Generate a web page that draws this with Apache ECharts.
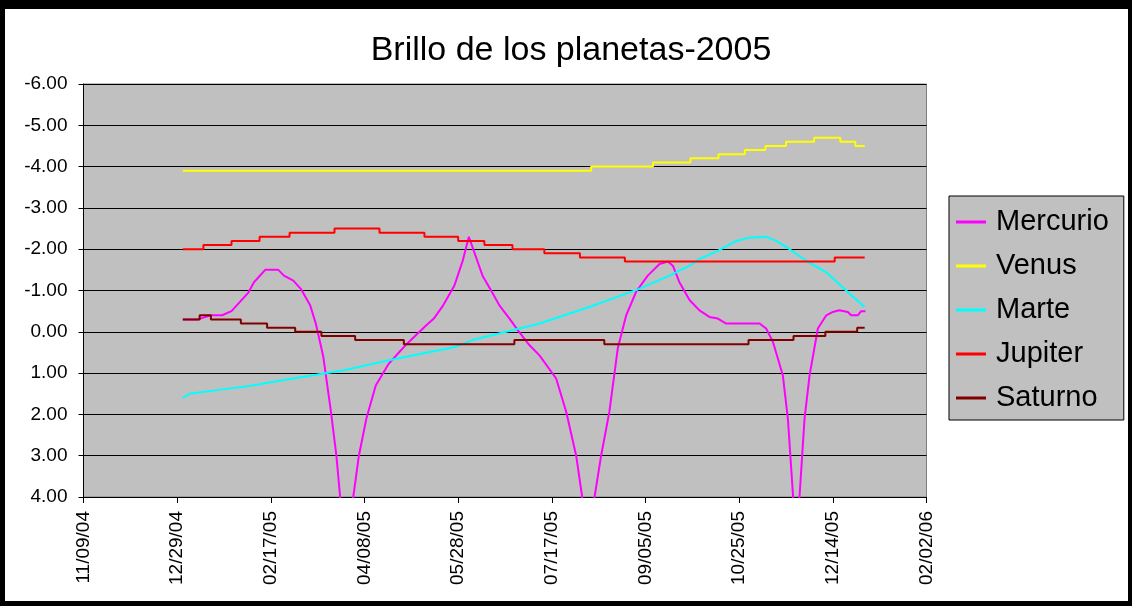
<!DOCTYPE html>
<html>
<head>
<meta charset="utf-8">
<script src="https://cdn.jsdelivr.net/npm/echarts@6/dist/echarts.min.js"></script>
<style>
  html, body { margin: 0; padding: 0; background: #000; width: 1132px; height: 606px; overflow: hidden; }
  #c { position: absolute; left: 5px; top: 9px; width: 1123px; height: 592px; background: #fff; }
</style>
</head>
<body>
<div id="c"></div>
<script>
// Tick labels of the date axis (every 50 days from 11/09/04)
const xTickLabels = ['11/09/04', '12/29/04', '02/17/05', '04/08/05', '05/28/05', '07/17/05', '09/05/05', '10/25/05', '12/14/05', '02/02/06'];
const yTickValues = [-6, -5, -4, -3, -2, -1, 0, 1, 2, 3, 4];

// Days are counted from 1 Jan 2005 (day 0)
const mercurioDias = [0, 8, 15, 21, 26, 30, 35, 38, 44, 51, 54, 59, 63, 68, 71, 75, 79, 82, 84, 87, 91, 94, 98, 103, 110, 119, 130, 134, 139, 141, 145, 149.5, 152.7, 156.6, 160, 164.6, 169, 174.4, 178.8, 185, 190.4, 199.3, 204.7, 210, 213.2, 216.5, 219.8, 223.3, 227.7, 232.2, 236.7, 242, 248.2, 254.5, 258.9, 261.6, 265.1, 270.5, 275.8, 281.1, 285.6, 290.1, 307.9, 311.4, 315, 320.3, 323, 325.8, 327.5, 329.2, 331.9, 334.6, 339, 343.5, 347, 350.5, 355, 356.8, 360.3, 362.1, 364.4];
const mercurioMag  = [-0.3, -0.3, -0.4, -0.4, -0.5, -0.7, -0.95, -1.2, -1.5, -1.5, -1.36, -1.24, -1.04, -0.64, -0.2, 0.6, 1.9, 3.0, 4.0, 5.3, 4.0, 3.0, 2.1, 1.3, 0.77, 0.32, -0.16, -0.32, -0.64, -0.8, -1.12, -1.73, -2.3, -1.8, -1.36, -1.0, -0.64, -0.32, -0.04, 0.32, 0.57, 1.13, 1.94, 3.0, 4.0, 5.3, 4.0, 3.0, 1.94, 0.4, -0.4, -0.97, -1.36, -1.64, -1.7, -1.6, -1.2, -0.77, -0.52, -0.36, -0.32, -0.2, -0.2, -0.08, 0.24, 1.05, 2.1, 4.0, 5.3, 4.0, 2.1, 1.05, -0.08, -0.4, -0.48, -0.52, -0.48, -0.4, -0.4, -0.5, -0.5];

const venusDias = [0, 218, 251, 271, 286, 300, 311, 322, 337, 351, 359, 364];
const venusMag  = [-3.9, -4.0, -4.1, -4.2, -4.3, -4.4, -4.5, -4.6, -4.7, -4.6, -4.5, -4.5];

const marteDias = [0, 3.6, 20.5, 37.4, 50, 63, 86, 110, 146, 154.6, 172.6, 190.5, 217, 243.6, 259.8, 272, 275.6, 285.6, 295.4, 302.5, 311.4, 316.8, 323.9, 332.8, 343.5, 354.1, 363.9];
const marteMag  = [1.6, 1.5, 1.4, 1.3, 1.2, 1.1, 0.93, 0.69, 0.36, 0.2, 0.0, -0.2, -0.6, -1.04, -1.36, -1.64, -1.76, -1.96, -2.2, -2.28, -2.3, -2.2, -2.0, -1.72, -1.44, -1.0, -0.6];

const jupiterDias = [0, 11, 26, 41, 57, 81, 105, 129, 147, 161, 176, 193, 212, 236, 348, 364];
const jupiterMag  = [-2.0, -2.1, -2.2, -2.3, -2.4, -2.5, -2.4, -2.3, -2.2, -2.1, -2.0, -1.9, -1.8, -1.7, -1.8, -1.8];

const saturnoDias = [0, 9, 15, 31, 45, 60, 74, 92, 118, 177, 225, 302, 326, 343, 360, 364];
const saturnoMag  = [-0.3, -0.4, -0.3, -0.2, -0.1, 0.0, 0.1, 0.2, 0.3, 0.2, 0.3, 0.2, 0.1, 0.0, -0.1, -0.1];

const seriesNames = ['Mercurio', 'Venus', 'Marte', 'Jupiter', 'Saturno'];
const seriesColors = ['#ff00ff', '#ffff00', '#00ffff', '#ff0000', '#800000'];

// 1 Jan 2005 is 53 days after 11/09/04 (axis origin)
const OFFSET = 53;
function pairs(days, mags) { return days.map((d, i) => [d + OFFSET, mags[i]]); }

const FONT = '"Liberation Sans", Arial, sans-serif';
const chart = echarts.init(document.getElementById('c'), null, { renderer: 'canvas' });

const dataSets = [
  { d: pairs(mercurioDias, mercurioMag), step: false },
  { d: pairs(venusDias, venusMag), step: 'end' },
  { d: pairs(marteDias, marteMag), step: false },
  { d: pairs(jupiterDias, jupiterMag), step: 'end' },
  { d: pairs(saturnoDias, saturnoMag), step: 'end' }
];

chart.setOption({
  animation: false,
  backgroundColor: '#fff',
  title: {
    text: 'Brillo de los planetas-2005',
    left: 561, textAlign: 'center', top: 20,
    textStyle: { fontFamily: FONT, fontSize: 34, fontWeight: 'normal', color: '#000' }
  },
  legend: {
    orient: 'vertical',
    left: 944, top: 187,
    padding: [11, 15, 7, 7],
    itemGap: 14,
    itemWidth: 30, itemHeight: 3,
    icon: 'rect',
    backgroundColor: '#c0c0c0',
    borderColor: '#000', borderWidth: 1,
    textStyle: { fontFamily: FONT, fontSize: 29, color: '#000', lineHeight: 30, padding: [0, 0, 0, 5] },
    data: seriesNames
  },
  grid: {
    left: 78.5, top: 75, width: 843, height: 413,
    show: true, backgroundColor: '#c0c0c0', borderColor: '#808080', borderWidth: 1
  },
  xAxis: {
    type: 'value', min: 0, max: 450, interval: 50,
    axisLine: { onZero: false, lineStyle: { color: '#000', width: 1 } },
    axisTick: { show: true, inside: false, length: 6, lineStyle: { color: '#000' } },
    splitLine: { show: false },
    axisLabel: {
      rotate: 90, margin: 14, color: '#000', fontFamily: FONT, fontSize: 19,
      formatter: v => xTickLabels[Math.round(v / 50)]
    }
  },
  yAxis: {
    type: 'value', min: yTickValues[0], max: yTickValues[yTickValues.length - 1], interval: 1, inverse: true,
    axisLine: { show: true, onZero: false, lineStyle: { color: '#000', width: 1 } },
    axisTick: { show: true, inside: false, length: 5, lineStyle: { color: '#000' } },
    splitLine: { show: true, lineStyle: { color: '#000', width: 1 } },
    axisLabel: {
      margin: 16, color: '#000', fontFamily: FONT, fontSize: 19,
      formatter: v => v.toFixed(2)
    }
  },
  series: seriesNames.map((n, i) => ({
    name: n, type: 'line', data: dataSets[i].d, step: dataSets[i].step,
    showSymbol: false, symbol: 'none', clip: true,
    lineStyle: { color: seriesColors[i], width: 2 },
    itemStyle: { color: seriesColors[i] }
  }))
});
</script>
</body>
</html>
